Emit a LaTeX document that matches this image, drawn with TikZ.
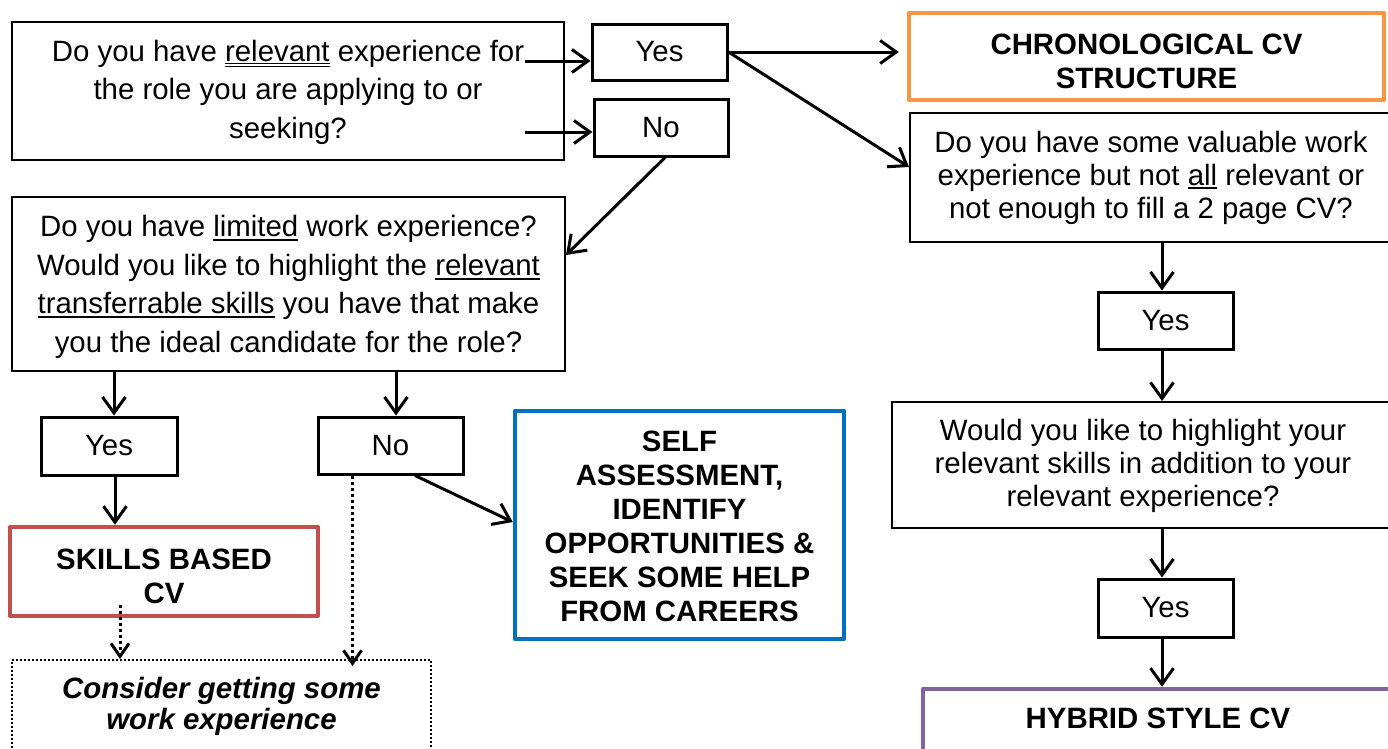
\documentclass[tikz,border=0pt]{standalone}
\usepackage{fontspec}
\setmainfont{Liberation Sans}
\usetikzlibrary{arrows.meta}
\definecolor{cvorange}{HTML}{F79646}
\definecolor{cvred}{HTML}{C0504D}
\definecolor{cvblue}{HTML}{0070C0}
\definecolor{cvpurple}{HTML}{8064A2}
\newcommand{\ulone}[1]{\leavevmode\setbox0\hbox{#1}\rlap{\rule[-4.2pt]{\wd0}{2pt}}\box0\relax}
\newcommand{\ultwo}[1]{\leavevmode\setbox0\hbox{#1}\rlap{\rule[-3pt]{\wd0}{1.3pt}}\rlap{\rule[-6.2pt]{\wd0}{1.3pt}}\box0\relax}
\newcommand{\tb}[2]{\begin{tabular}{@{}c@{}}\rule{0pt}{#1pt}#2\end{tabular}}
\begin{document}
\begin{tikzpicture}[x=1pt,y=-1pt,
 box/.style={draw, inner sep=0pt},
 qbox/.style={box, line width=2pt, font=\fontsize{29.4}{38.5}\selectfont},
 rqbox/.style={box, line width=2pt, font=\fontsize{29.4}{33}\selectfont},
 ynbox/.style={box, line width=3pt, font=\fontsize{29.4}{38.5}\selectfont},
 outbox/.style={box, line width=4.5pt, line join=round, font=\bfseries\fontsize{29.4}{34}\selectfont},
 conbox/.style={box, line width=2pt, dash pattern=on 2pt off 2pt, font=\bfseries\itshape\fontsize{29.4}{31}\selectfont},
 arr/.style={line width=3pt, -{Straight Barb[length=16pt,width=23pt]}},
 darr/.style={line width=3pt, dash pattern=on 3pt off 3pt, -{Straight Barb[length=13pt,width=18pt]}},
 sz/.style 2 args={minimum width=#1pt, minimum height=#2pt}
]
\useasboundingbox (0,0) rectangle (1388,748);
\clip (0,0) rectangle (1388,748);

\node[qbox, sz={552}{138}] (q1) at (288,91) {\tb{29}{Do you have \ultwo{relevant} experience for\\the role you are applying to or\\seeking?}};
\node[ynbox, sz={135}{56}] (y1) at (659.5,52) {\tb{31}{Yes}};
\node[ynbox, sz={134}{57}] (n1) at (661,127.5) {\tb{31}{No}};
\node[outbox, draw=cvorange, sz={475}{87}] (chron) at (1146.5,56.5) {\tb{40}{CHRONOLOGICAL CV\\STRUCTURE}};
\node[rqbox, sz={482}{129}] (q2) at (1151,177.5) {\tb{25.1}{Do you have some valuable work\\experience but not \ulone{all} relevant or\\not enough to fill a 2 page CV?}};
\node[ynbox, sz={135}{57}] (y2) at (1165.5,320.5) {\tb{31}{Yes}};
\node[rqbox, sz={502}{126}] (q4) at (1143,465) {\tb{26.5}{Would you like to highlight your\\relevant skills in addition to your\\relevant experience?}};
\node[ynbox, sz={135}{58}] (y3) at (1165.5,608) {\tb{31}{Yes}};
\node[outbox, draw=cvpurple, sz={470}{62}] (hyb) at (1158,720) {\tb{27.8}{HYBRID STYLE CV}};
\node[qbox, sz={553}{174}] (q3) at (288.5,284) {\tb{33}{Do you have \ulone{limited} work experience?\\Would you like to highlight the \ulone{relevant}\\\ulone{transferrable skills} you have that make\\you the ideal candidate for the role?}};
\node[ynbox, sz={136}{58}] (y4) at (109,446) {\tb{31}{Yes}};
\node[ynbox, sz={145}{57}] (n4) at (390.5,445.5) {\tb{31}{No}};
\node[outbox, draw=cvred, sz={308}{89}] (skills) at (164,571.5) {\tb{39.8}{SKILLS BASED\\CV}};
\node[outbox, draw=cvblue, sz={329}{228}] (self) at (679.5,525) {\tb{33.8}{SELF\\ASSESSMENT,\\IDENTIFY\\OPPORTUNITIES \&\\SEEK SOME HELP\\FROM CAREERS}};
\node[conbox, sz={419}{92}] (cons) at (221.5,706) {\tb{25.7}{Consider getting some\\work experience}};

\coordinate (a1) at (525,61);
\coordinate (a2) at (525,132);
\coordinate (d1) at (120,605);
\coordinate (d2) at (352.5,666);

\draw[arr] (a1) -- (a1 -| y1.west);
\draw[arr] (a2) -- (a2 -| n1.west);
\draw[arr, shorten >=8pt] (y1.east) -- (y1.east -| chron.west);
\draw[arr] (y1.east) -- ([yshift=10.5pt]q2.west);
\draw[arr] ([xshift=4pt]n1.south) -- ([yshift=29pt]q3.east);
\draw[arr] (q2.south -| 1162,0) -- (y2.north -| 1162,0);
\draw[arr] (y2.south -| 1162,0) -- (q4.north -| 1162,0);
\draw[arr] (q4.south -| 1162,0) -- (y3.north -| 1162,0);
\draw[arr] (y3.south -| 1162,0) -- (hyb.north -| 1162,0);
\draw[arr] (q3.south -| 114,0) -- (y4.north -| 114,0);
\draw[arr] (q3.south -| 396,0) -- (n4.north -| 396,0);
\draw[arr] (y4.south -| 115,0) -- (skills.north -| 115,0);
\draw[arr] (n4.south -| 415,0) -- (self.west |- 0,522);
\draw[darr] (d1) -- (cons.north -| d1);
\draw[darr] (n4.south -| d2) -- (d2);
\end{tikzpicture}
\end{document}
